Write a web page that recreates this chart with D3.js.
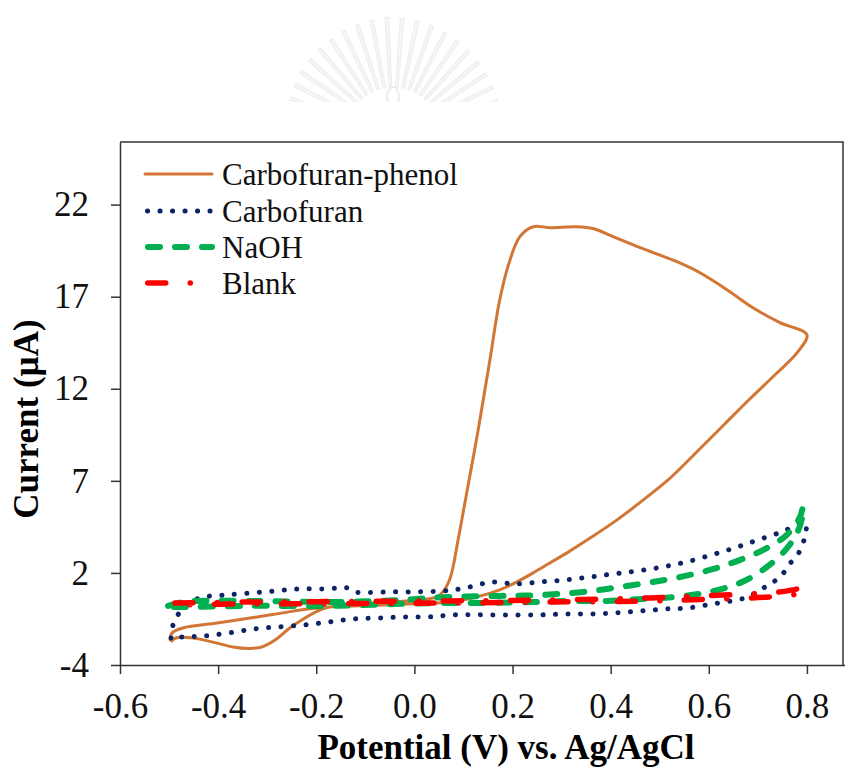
<!DOCTYPE html>
<html>
<head>
<meta charset="utf-8">
<script src="https://cdn.jsdelivr.net/npm/d3@7"></script>
<style>
  html, body { margin: 0; padding: 0; background: #fff; }
  svg { display: block; }
</style>
</head>
<body>
<svg id="chart" width="845" height="767"></svg>
<script>
// Cyclic voltammograms: [potential (V vs. Ag/AgCl), current (µA)]
const carbofuranPhenol = [
  [-0.494,-1.70],[-0.488,-1.55],[-0.451,-1.53],[-0.404,-1.80],[-0.370,-2.02],[-0.335,-2.10],
  [-0.311,-2.02],[-0.284,-1.64],[-0.254,-0.99],[-0.223,-0.45],[-0.192,-0.01],[-0.162,0.21],
  [-0.111,0.32],[-0.050,0.42],[0.011,0.53],[0.046,0.70],[0.058,0.97],[0.073,1.73],[0.089,3.79],
  [0.101,5.53],[0.113,7.27],[0.130,9.77],[0.142,11.67],[0.154,13.58],[0.174,16.84],[0.195,19.01],
  [0.215,20.26],[0.242,20.80],[0.276,20.75],[0.331,20.80],[0.364,20.70],[0.405,20.26],[0.460,19.66],
  [0.535,18.90],[0.582,18.30],[0.637,17.38],[0.690,16.40],[0.745,15.59],[0.800,14.93],
  [0.780,13.96],[0.735,12.76],[0.684,11.46],[0.633,10.10],[0.582,8.74],[0.541,7.65],[0.517,7.05],
  [0.464,5.91],[0.413,4.88],[0.362,3.96],[0.311,3.09],[0.276,2.54],[0.242,2.00],[0.209,1.51],
  [0.174,1.08],[0.128,0.70],[0.073,0.42],[0.011,0.34],[-0.064,0.26],[-0.172,0.15],[-0.233,-0.01],
  [-0.268,-0.17],[-0.335,-0.45],[-0.402,-0.72],[-0.472,-0.99],[-0.494,-1.26],[-0.498,-1.64]
];
const carbofuran = [
  [-0.496,-1.53],[-0.492,-0.83],[-0.478,-0.12],[-0.457,0.42],[-0.427,0.70],[-0.386,0.80],
  [-0.335,0.91],[-0.284,1.02],[-0.235,1.13],[-0.186,1.13],[-0.152,1.18],[-0.135,1.18],
  [-0.121,0.97],[-0.097,0.94],[-0.046,0.97],[0.005,0.97],[0.056,1.02],[0.093,1.13],[0.130,1.35],
  [0.154,1.51],[0.181,1.46],[0.205,1.40],[0.256,1.51],[0.307,1.62],[0.358,1.78],[0.407,1.95],
  [0.456,2.11],[0.507,2.33],[0.555,2.60],[0.606,2.98],[0.653,3.36],[0.700,3.79],[0.749,4.23],
  [0.796,4.72],
  [0.798,4.17],[0.792,3.63],[0.782,3.03],[0.763,2.43],[0.749,1.89],[0.729,1.46],[0.708,1.13],
  [0.680,0.70],[0.657,0.53],[0.609,0.32],[0.558,0.10],[0.511,0.04],[0.460,-0.07],[0.409,-0.17],
  [0.358,-0.23],[0.307,-0.23],[0.256,-0.28],[0.154,-0.28],[0.079,-0.28],[0.028,-0.39],
  [-0.023,-0.39],[-0.074,-0.45],[-0.125,-0.50],[-0.174,-0.66],[-0.225,-0.83],[-0.278,-0.93],
  [-0.327,-1.04],[-0.378,-1.26],[-0.427,-1.42],[-0.474,-1.48],[-0.496,-1.53]
];
const naoh = [
  [-0.502,0.21],[-0.472,0.42],[-0.335,0.48],[-0.172,0.42],[-0.029,0.53],[0.073,0.70],[0.174,0.75],
  [0.256,0.80],[0.344,0.97],[0.433,1.29],[0.521,1.67],[0.602,2.16],[0.664,2.71],[0.719,3.36],
  [0.759,4.07],[0.786,5.04],[0.792,5.59],
  [0.792,5.26],[0.780,4.17],[0.751,3.09],[0.710,2.16],[0.664,1.46],[0.602,0.97],[0.535,0.70],
  [0.466,0.59],[0.392,0.48],[0.323,0.48],[0.242,0.42],[0.140,0.37],[0.073,0.37],[-0.029,0.32],
  [-0.172,0.21],[-0.335,0.21],[-0.472,0.15],[-0.502,0.15]
];
const blank = [
  [-0.488,0.37],[-0.335,0.42],[-0.131,0.45],[0.073,0.48],[0.276,0.53],[0.480,0.64],[0.582,0.75],
  [0.684,0.86],[0.745,0.97],[0.796,1.13],
  [0.798,0.97],[0.745,0.75],[0.684,0.64],[0.582,0.56],[0.480,0.48],[0.276,0.42],[0.073,0.37],
  [-0.131,0.34],[-0.335,0.32],[-0.488,0.26]
];

const seriesNames = ["Carbofuran-phenol", "Carbofuran", "NaOH", "Blank"];
const xTicks = [-0.6, -0.4, -0.2, 0.0, 0.2, 0.4, 0.6, 0.8];
const xTickLabels = ["-0.6", "-0.4", "-0.2", "0.0", "0.2", "0.4", "0.6", "0.8"];
const yTicks = [-3, 2, 7, 12, 17, 22];
const yTickLabels = ["-4", "2", "7", "12", "17", "22"];

const styles = [
  { color: "#d27636", width: 3,   dash: null,               cap: "round" },
  { color: "#0c2463", width: 5,   dash: "0.1,12.4",         cap: "round" },
  { color: "#00b050", width: 6,   dash: "12,15",            cap: "round" },
  { color: "#ff0000", width: 5.5, dash: "18,24.5,0.1,24.5", cap: "round" }
];
const seriesData = [carbofuranPhenol, carbofuran, naoh, blank];

const svg = d3.select("#chart");
const serif = "'Liberation Serif', 'Times New Roman', serif";

// Faint emblem at the top of the page
const emblem = svg.append("g");
emblem.append("clipPath").attr("id", "emblemClip")
  .append("rect").attr("x", 0).attr("y", 0).attr("width", 845).attr("height", 102);
const eg = emblem.append("g").attr("clip-path", "url(#emblemClip)");
const cx = 393, cy = 135;
d3.range(-168, -10, 7.5).forEach(a => {
  const r0 = 48, r1 = 118 - Math.abs(a + 90) * 0.12;
  const t = a * Math.PI / 180, w = 0.045;
  const pts = [
    [cx + r0 * Math.cos(t - w * 0.6), cy + r0 * Math.sin(t - w * 0.6)],
    [cx + r1 * Math.cos(t - w * 0.35), cy + r1 * Math.sin(t - w * 0.35)],
    [cx + r1 * Math.cos(t + w * 0.35), cy + r1 * Math.sin(t + w * 0.35)],
    [cx + r0 * Math.cos(t + w * 0.6), cy + r0 * Math.sin(t + w * 0.6)]
  ];
  eg.append("path").attr("d", d3.line()(pts) + "Z")
    .attr("fill", "#f6f6f6").attr("stroke", "#ededed").attr("stroke-width", 1.1);
});
eg.append("ellipse").attr("cx", cx).attr("cy", 97).attr("rx", 6).attr("ry", 10)
  .attr("fill", "none").attr("stroke", "#e9e9e9").attr("stroke-width", 1.5);

// Scales
const x = d3.scaleLinear().domain([-0.6, 0.9]).range([120, 856]);
const y = d3.scaleLinear().domain([-3, 25.4]).range([665, 142]);

// Plot frame
svg.append("path")
  .attr("d", `M120,${y(25.4)}H843V${y(-3)}`)
  .attr("fill", "none").attr("stroke", "#333").attr("stroke-width", 1.5);

// Axes
const xAxis = svg.append("g").attr("transform", `translate(0,${y(-3)})`)
  .call(d3.axisBottom(x).tickValues(xTicks).tickFormat((d, i) => xTickLabels[i])
    .tickSize(9).tickSizeOuter(0).tickPadding(19));
const yAxis = svg.append("g").attr("transform", `translate(${x(-0.6)},0)`)
  .call(d3.axisLeft(y).tickValues(yTicks).tickFormat((d, i) => yTickLabels[i])
    .tickSize(9).tickSizeOuter(0).tickPadding(22));
[xAxis, yAxis].forEach(g => {
  g.attr("font-family", serif).attr("font-size", 35);
  g.selectAll("path, line").attr("stroke", "#333").attr("stroke-width", 1.5);
  g.selectAll("text").attr("fill", "#111");
});

// Curves
const line = d3.line().x(d => x(d[0])).y(d => y(d[1])).curve(d3.curveCatmullRom.alpha(0.5));
seriesData.forEach((data, i) => {
  const s = styles[i];
  svg.append("path").datum(data)
    .attr("d", line)
    .attr("fill", "none")
    .attr("stroke", s.color)
    .attr("stroke-width", s.width)
    .attr("stroke-linecap", s.cap)
    .attr("stroke-linejoin", "round")
    .attr("stroke-dasharray", s.dash);
});

// Legend
const legendY = [174, 211, 247, 283];
const legend = svg.append("g");
seriesNames.forEach((name, i) => {
  const s = styles[i];
  legend.append("line")
    .attr("x1", 145 + (s.dash ? s.width / 2 : 0)).attr("x2", 212)
    .attr("y1", legendY[i]).attr("y2", legendY[i])
    .attr("stroke", s.color).attr("stroke-width", s.width)
    .attr("stroke-linecap", s.cap).attr("stroke-dasharray", s.dash);
  legend.append("text")
    .attr("x", 222).attr("y", legendY[i] + 10.5)
    .attr("font-family", serif).attr("font-size", 31).attr("fill", "#111")
    .text(name);
});

// Axis titles
svg.append("text")
  .attr("x", 506).attr("y", 759)
  .attr("text-anchor", "middle")
  .attr("font-family", serif).attr("font-size", 35).attr("font-weight", "bold")
  .attr("fill", "#000")
  .text("Potential (V) vs. Ag/AgCl");
svg.append("text")
  .attr("transform", "translate(38,419) rotate(-90)")
  .attr("text-anchor", "middle")
  .attr("font-family", serif).attr("font-size", 35).attr("font-weight", "bold")
  .attr("fill", "#000")
  .text("Current  (µA)");
</script>
</body>
</html>
